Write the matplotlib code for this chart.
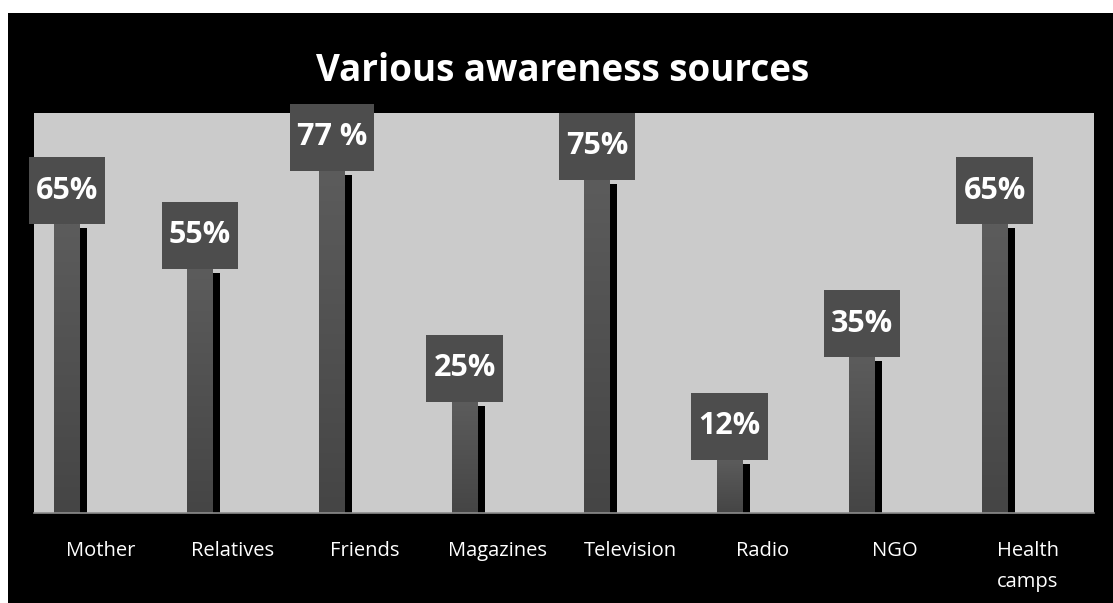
import numpy as np
import matplotlib
matplotlib.use("Agg")
import matplotlib.pyplot as plt
from matplotlib.patches import Rectangle

categories = ["Mother", "Relatives", "Friends", "Magazines", "Television",
              "Radio", "NGO", "Health\ncamps"]
values = [65, 55, 77, 25, 75, 12, 35, 65]
value_labels = ["65%", "55%", "77 %", "25%", "75%", "12%", "35%", "65%"]

plt.rcParams['font.family'] = ['Open Sans', 'DejaVu Sans']

W, H = 1113, 603
fig = plt.figure(figsize=(W / 100, H / 100), dpi=100)
fig.patch.set_facecolor('white')

# black chart area (small white margin at top and left)
fig.patches.append(Rectangle((8 / W, 0), 1 - 8 / W, 1 - 13 / H, transform=fig.transFigure,
                             facecolor='black', edgecolor='none', zorder=-1))

ax = fig.add_axes([34 / W, 90 / H, 1060 / W, 400 / H])
ax.set_zorder(1)
ax.set_facecolor('#cbcbcb')
ax.set_xlim(-0.5, len(categories) - 0.5)
ax.set_ylim(0, 90)

x = np.arange(len(categories))
bx = x - 0.25
bw = 0.196
px_x = 1060 / len(categories)   # pixels per x unit
px_y = 400 / 90                 # pixels per y unit

# shadows
ax.bar(bx + 7 / px_x, np.array(values) - 4 / px_y, bw, color='black', zorder=1)

# gradient bars
grad = np.linspace(0, 1, 256).reshape(-1, 1)
cmap = matplotlib.colors.LinearSegmentedColormap.from_list('g', ['#454545', '#5c5c5c'])
for xi, v in zip(bx, values):
    rect = Rectangle((xi - bw / 2, 0), bw, v, facecolor='none', edgecolor='none')
    ax.add_patch(rect)
    im = ax.imshow(grad, cmap=cmap, origin='lower', aspect='auto',
                   extent=(xi - bw / 2, xi + bw / 2, 0, v), zorder=2)
    im.set_clip_path(rect)
ax.set_xlim(-0.5, len(categories) - 0.5)
ax.set_ylim(0, 90)

# value boxes
fig.canvas.draw()
renderer = fig.canvas.get_renderer()
box_h = 67 / px_y
for xi, v, lab in zip(bx, values, value_labels):
    t = ax.text(xi, v + box_h / 2, lab, color='white', fontsize=22, fontweight='bold',
                ha='center', va='center', zorder=5)
    tw = t.get_window_extent(renderer).width
    bw_box = (tw + 14) / px_x
    ax.add_patch(Rectangle((xi - bw_box / 2, v), bw_box, box_h, facecolor='#4d4d4d',
                           edgecolor='none', zorder=4, clip_on=False))

for s in ['top', 'right', 'left']:
    ax.spines[s].set_visible(False)
ax.spines['bottom'].set_color('#8c8c8c')
ax.spines['bottom'].set_linewidth(1.2)
ax.spines['bottom'].set_zorder(6)
ax.set_yticks([])
ax.set_xticks(x)
ax.set_xticklabels(categories, color='white', fontsize=14.5, linespacing=1.75, va='top')
ax.tick_params(axis='x', length=0, pad=20)

fig.text(563 / W, 1 - 71 / H, "Various awareness sources", color='white', fontsize=26.5,
         fontweight='bold', ha='center', va='center')

fig.savefig('out.png', dpi=100, facecolor=fig.get_facecolor())
